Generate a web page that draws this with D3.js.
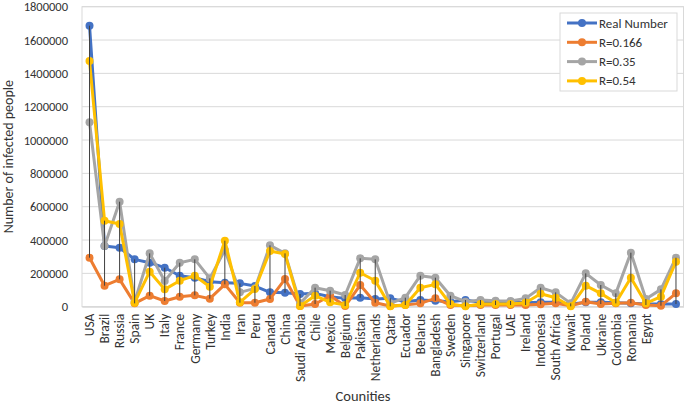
<!DOCTYPE html>
<html><head><meta charset="utf-8">
<script src="https://cdn.jsdelivr.net/npm/d3@7"></script>
<style>body{margin:0;background:#fff}svg{display:block;font-family:Carlito,Lato,"Liberation Sans",sans-serif}</style>
</head><body><svg id="c" width="685" height="405"></svg>
<script>
const countries = ["USA","Brazil","Russia","Spain","UK","Italy","France","Germany","Turkey","India","Iran","Peru","Canada","China","Saudi Arabia","Chile","Mexico","Belgium","Pakistan","Netherlands","Qatar","Ecuador","Belarus","Bangladesh","Sweden","Singapore","Switzerland","Portugal","UAE","Ireland","Indonesia","South Africa","Kuwait","Poland","Ukraine","Colombia","Romania","Egypt","",""];
const realNumber = [1686000,364000,354000,284000,264000,234000,186000,174000,150000,144000,140000,124000,86000,84000,76000,80000,60000,50000,54000,46000,50000,30000,40000,36000,30000,40000,26000,30000,30000,24000,26000,26000,16000,26000,26000,24000,20000,16000,16000,16000];
const r0166 = [294000,126000,164000,20000,66000,34000,60000,68000,48000,134000,24000,24000,46000,166000,4000,16000,66000,4000,130000,24000,4000,10000,20000,50000,10000,6000,10000,10000,10000,10000,14000,20000,6000,30000,16000,20000,24000,10000,6000,80000];
const r035 = [1106000,364000,630000,30000,320000,154000,264000,284000,170000,340000,86000,110000,368000,320000,20000,114000,96000,70000,290000,284000,20000,54000,186000,174000,66000,30000,40000,36000,34000,50000,114000,86000,20000,200000,130000,80000,324000,46000,104000,294000];
const r054 = [1474000,516000,496000,24000,210000,104000,156000,186000,120000,396000,26000,106000,334000,316000,4000,66000,26000,10000,204000,156000,2000,10000,114000,134000,16000,2000,16000,16000,16000,24000,78000,54000,2000,126000,80000,24000,174000,20000,60000,270000];
const yTicks = [0,200000,400000,600000,800000,1000000,1200000,1400000,1600000,1800000];
const seriesNames = ["Real Number","R=0.166","R=0.35","R=0.54"];
const seriesColors = ["#4472C4","#ED7D31","#A5A5A5","#FFC000"];
const seriesValues = [realNumber, r0166, r035, r054];

const svg = d3.select("#c");
const L = 82, R = 683.5, T = 6.7, B = 306.7;
const x = d3.scaleBand().domain(d3.range(countries.length)).range([L, R]);
const y = d3.scaleLinear().domain([0, 1800000]).range([B, T]);
const cx = i => x(i) + x.bandwidth() / 2;

// gridlines
svg.append("g").selectAll("line").data(yTicks).join("line")
  .attr("x1", L).attr("x2", R).attr("y1", d => y(d)).attr("y2", d => y(d))
  .attr("stroke", "#D9D9D9").attr("stroke-width", 1);
svg.append("rect").attr("x", L).attr("y", T).attr("width", R - L).attr("height", B - T)
  .attr("fill", "none").attr("stroke", "#D9D9D9");

// y axis
const ya = svg.append("g").attr("transform", `translate(${L},0)`)
  .call(d3.axisLeft(y).tickValues(yTicks).tickFormat(d3.format("d")).tickSize(0).tickPadding(14));
ya.select(".domain").remove();
ya.selectAll("text").attr("font-size", 12.5).attr("fill", "#333").attr("font-family", "Carlito,Lato,sans-serif");

// x axis
const xa = svg.append("g").attr("transform", `translate(0,${B})`)
  .call(d3.axisBottom(x).tickFormat(i => countries[i]).tickSize(0));
xa.select(".domain").attr("stroke", "#D9D9D9");
xa.selectAll("text").attr("font-size", 13.5).attr("fill", "#333").attr("font-family", "Carlito,Lato,sans-serif")
  .attr("text-anchor", "end").attr("dy", "0.35em").attr("dx", "-7").attr("y", 0).attr("x", 0)
  .attr("transform", "rotate(-90)");

// axis titles
svg.append("text").attr("transform", `translate(13,${(T + B) / 2}) rotate(-90)`)
  .attr("text-anchor", "middle").attr("font-size", 14).attr("fill", "#333").text("Number of infected people");
svg.append("text").attr("x", 363).attr("y", 401).attr("text-anchor", "middle")
  .attr("font-size", 14.5).attr("fill", "#333").text("Counities");

// series lines
const line = d3.line().x((d, i) => cx(i)).y(d => y(d));
seriesValues.forEach((vals, s) => {
  svg.append("path").datum(vals).attr("d", line).attr("fill", "none")
    .attr("stroke", seriesColors[s]).attr("stroke-width", 3).attr("stroke-linejoin", "round");
  svg.append("g").selectAll("circle").data(vals).join("circle")
    .attr("cx", (d, i) => cx(i)).attr("cy", d => y(d)).attr("r", 4)
    .attr("fill", seriesColors[s]);
});

// high-low lines
svg.append("g").selectAll("line").data(countries.map((c, i) => i)).join("line")
  .attr("x1", i => cx(i)).attr("x2", i => cx(i))
  .attr("y1", i => y(d3.max(seriesValues, v => v[i])))
  .attr("y2", i => y(d3.min(seriesValues, v => v[i])))
  .attr("stroke", "#404040").attr("stroke-width", 1);

// legend
const lg = svg.append("g").attr("transform", "translate(560,13)");
lg.append("rect").attr("width", 117).attr("height", 78).attr("fill", "#fff").attr("stroke", "#D9D9D9");
seriesNames.forEach((n, s) => {
  const yy = 10 + s * 19.3;
  lg.append("line").attr("x1", 7).attr("x2", 37).attr("y1", yy).attr("y2", yy)
    .attr("stroke", seriesColors[s]).attr("stroke-width", 3);
  lg.append("circle").attr("cx", 22).attr("cy", yy).attr("r", 4).attr("fill", seriesColors[s]);
  lg.append("text").attr("x", 39).attr("y", yy).attr("dy", "0.35em").attr("font-size", 13)
    .attr("fill", "#333").text(n);
});
</script></body></html>
